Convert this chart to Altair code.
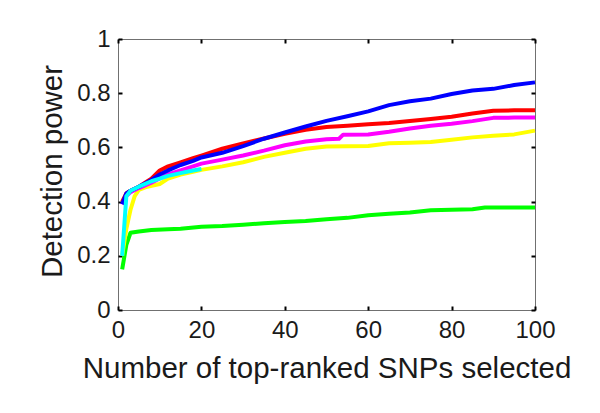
import altair as alt
import pandas as pd

# ---- data ----
blue_x = [1, 2, 3, 5, 8, 10, 12, 15, 18, 20, 25, 30, 35, 40, 45, 50, 55, 60, 65, 70, 75, 80, 85, 90, 95, 100]
blue_y = [0.39, 0.43, 0.44, 0.455, 0.48, 0.50, 0.515, 0.535, 0.55, 0.563, 0.58, 0.605, 0.632, 0.655, 0.677,
          0.698, 0.715, 0.733, 0.756, 0.77, 0.78, 0.797, 0.81, 0.816, 0.83, 0.84]

red_x = [1, 2, 3, 5, 8, 10, 12, 15, 18, 20, 25, 30, 35, 40, 45, 50, 55, 60, 65, 70, 75, 80, 85, 90, 95, 100]
red_y = [0.40, 0.43, 0.44, 0.455, 0.485, 0.515, 0.53, 0.545, 0.56, 0.57, 0.595, 0.615, 0.633, 0.65, 0.665,
         0.675, 0.68, 0.685, 0.69, 0.697, 0.705, 0.713, 0.725, 0.735, 0.737, 0.737]

magenta_x = [1, 2, 3, 5, 8, 10, 12, 15, 18, 20, 25, 30, 35, 40, 45, 50, 53, 54, 60, 65, 70, 75, 80, 85, 90, 95, 100]
magenta_y = [0.39, 0.42, 0.435, 0.45, 0.47, 0.485, 0.50, 0.515, 0.53, 0.54, 0.555, 0.57, 0.588, 0.608, 0.622,
             0.63, 0.632, 0.647, 0.648, 0.658, 0.67, 0.68, 0.687, 0.697, 0.709, 0.71, 0.71]

yellow_x = [1, 2, 3, 4, 5, 7, 10, 12, 15, 18, 20, 25, 30, 35, 40, 45, 50, 55, 60, 65, 70, 75, 80, 85, 90, 95, 100]
yellow_y = [0.20, 0.30, 0.37, 0.42, 0.443, 0.455, 0.465, 0.485, 0.50, 0.51, 0.517, 0.53, 0.545, 0.565, 0.58,
            0.595, 0.603, 0.604, 0.605, 0.615, 0.617, 0.62, 0.628, 0.637, 0.643, 0.648, 0.662]

cyan_x = [1, 2, 3, 5, 8, 10, 12, 15, 18, 20]
cyan_y = [0.20, 0.42, 0.44, 0.455, 0.475, 0.485, 0.495, 0.505, 0.515, 0.52]

green_x = [1, 2, 3, 5, 8, 12, 15, 20, 25, 30, 35, 40, 45, 50, 55, 60, 65, 70, 75, 80, 85, 88, 90, 95, 100]
green_y = [0.15, 0.24, 0.285, 0.29, 0.295, 0.298, 0.30, 0.307, 0.31, 0.315, 0.32, 0.325, 0.328, 0.335, 0.34,
           0.35, 0.355, 0.36, 0.368, 0.37, 0.372, 0.378, 0.378, 0.378, 0.378]

x_ticks = [0, 20, 40, 60, 80, 100]
y_ticks = [0, 0.2, 0.4, 0.6, 0.8, 1]

# draw order: first drawn is bottom-most
series = [
    ("green", "#00ff00", green_x, green_y),
    ("yellow", "#ffff00", yellow_x, yellow_y),
    ("magenta", "#ff00ff", magenta_x, magenta_y),
    ("red", "#ff0000", red_x, red_y),
    ("blue", "#0000ff", blue_x, blue_y),
    ("cyan", "#00ffff", cyan_x, cyan_y),
]

FONT = "Liberation Sans"
TXT = "#1a1a1a"
TK = 4  # inward tick length

x_scale = alt.Scale(domain=[0, 100], nice=False, zero=False)
y_scale = alt.Scale(domain=[0, 1], nice=False, zero=False)

x_enc = alt.X(
    "x:Q", scale=x_scale,
    axis=alt.Axis(
        orient="bottom", values=x_ticks, offset=-TK, tickSize=TK, tickWidth=2, tickColor="black",
        domain=False, grid=False, labelFont=FONT, labelFontSize=24, labelColor=TXT,
        labelPadding=8, labelFlush=False, format="d",
        title="Number of top-ranked SNPs selected", titleFont=FONT, titleFontSize=29.5,
        titleFontWeight="normal", titleColor=TXT, titleY=71, titleBaseline="alphabetic",
    ),
)
y_enc = alt.Y(
    "y:Q", scale=y_scale,
    axis=alt.Axis(
        orient="left", values=y_ticks, offset=-TK, tickSize=TK, tickWidth=2, tickColor="black",
        domain=False, grid=False, labelFont=FONT, labelFontSize=24, labelColor=TXT,
        labelPadding=8, labelFlush=False, format="~g",
        title="Detection power", titleFont=FONT, titleFontSize=29.5, titleFontWeight="normal",
        titleColor=TXT, titleAngle=270, titleX=-61, titleY=132, titleAlign="center",
        titleBaseline="alphabetic",
    ),
)

layers = []
all_rows = []
for name, color, xs, ys in series:
    df = pd.DataFrame({"x": xs, "y": ys, "series": name})
    all_rows.append(df)
    layers.append(
        alt.Chart(df).mark_line(color=color, strokeWidth=4, strokeJoin="round", strokeCap="butt")
        .encode(x=x_enc, y=y_enc)
    )

main = alt.layer(*layers)

all_df = pd.concat(all_rows, ignore_index=True)
ticks_layer = alt.Chart(all_df).mark_line(opacity=0).encode(
    x=alt.X("x:Q", scale=x_scale, title="",
            axis=alt.Axis(orient="top", values=x_ticks, offset=-TK, tickSize=TK, tickWidth=2,
                          tickColor="black", domain=False, grid=False, labels=False)),
    y=alt.Y("y:Q", scale=y_scale, title="",
            axis=alt.Axis(orient="right", values=y_ticks, offset=-TK, tickSize=TK, tickWidth=2,
                          tickColor="black", domain=False, grid=False, labels=False)),
    detail="series:N",
)

chart = alt.layer(main, ticks_layer).resolve_axis(x="independent", y="independent").properties(
    width=417, height=271,
    autosize=alt.AutoSizeParams(type="none"),
    padding={"left": 110, "top": 31, "right": 57, "bottom": 95},
    background="white",
).configure_view(stroke="#707070", strokeWidth=1)

chart.save("out.html", embed_options={"renderer": "svg", "actions": False})
